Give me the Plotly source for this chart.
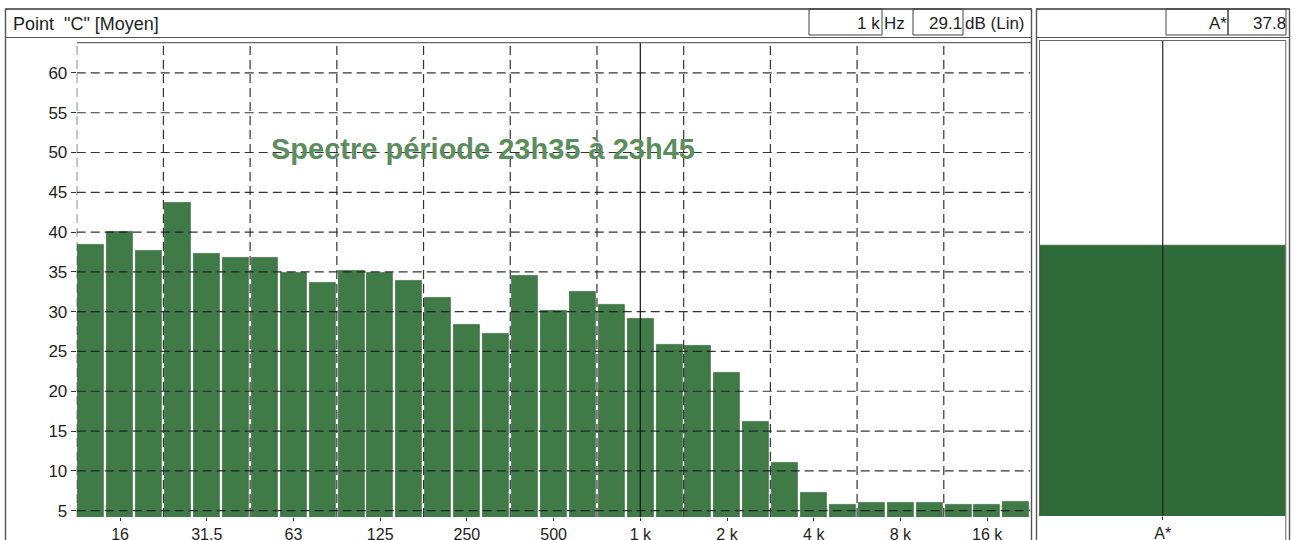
import plotly.graph_objects as go

# Third-octave bands (Hz) and measured levels, dB (Lin)
bands = ["12.5", "16", "20", "25", "31.5", "40", "50", "63", "80", "100", "125",
         "160", "200", "250", "315", "400", "500", "630", "800", "1 k", "1.25 k",
         "1.6 k", "2 k", "2.5 k", "3.15 k", "4 k", "5 k", "6.3 k", "8 k", "10 k",
         "12.5 k", "16 k", "20 k"]
levels = [38.4, 40.1, 37.7, 43.7, 37.3, 36.8, 36.8, 34.9, 33.7, 35.2, 34.9,
          33.9, 31.7, 28.4, 27.2, 34.5, 30.1, 32.5, 30.9, 29.1, 25.8,
          25.7, 22.3, 16.2, 11.0, 7.3, 5.7, 6.0, 6.0, 6.0,
          5.8, 5.8, 6.1]

# Octave labels on the frequency axis
labeled_bands = ["16", "31.5", "63", "125", "250", "500", "1 k", "2 k", "4 k", "8 k", "16 k"]
# Bands whose lower edge carries a vertical grid line
grid_bands = ["12.5", "25", "50", "100", "200", "400", "800", "1.6 k", "3.15 k", "6.3 k", "12.5 k"]
y_ticks = [5, 10, 15, 20, 25, 30, 35, 40, 45, 50, 55, 60]

cursor_band = "1 k"
cursor_level = 29.1
global_label = "A*"
global_level = 37.8

title_text = "Spectre période 23h35 à 23h45"
header_text = 'Point  "C" [Moyen]'

W, H = 1298, 540
FONT = "Liberation Sans, Arial, sans-serif"
BAR = "#3f7a47"
BAR_DARK = "#2f6b39"
GRID = "rgba(30,30,30,0.9)"
FRAME = "#555555"
TXT = "#1e1e1e"


def px(x):
    return x / W


def py(y):
    return 1 - y / H


idx = list(range(len(bands)))

fig = go.Figure()

fig.add_trace(go.Bar(
    x=idx, y=levels, width=0.9, base=0,
    marker=dict(color=BAR, line=dict(color="#2d5c33", width=0.6)),
    xaxis="x", yaxis="y", showlegend=False,
))
fig.add_trace(go.Bar(
    x=[0], y=[global_level], width=1.0, base=0,
    marker=dict(color=BAR_DARK, line=dict(color="#24552c", width=0.6)),
    xaxis="x2", yaxis="y2", showlegend=False,
))

shapes = []
# dashed grid drawn over the bars
for v in y_ticks:
    shapes.append(dict(type="line", xref="x", yref="y", x0=-0.5, x1=len(bands) - 0.5,
                       y0=v, y1=v, layer="above",
                       line=dict(color=GRID, width=1.2, dash="9px,5px")))
for b in grid_bands:
    xe = bands.index(b) - 0.5
    shapes.append(dict(type="line", xref="x", yref="y domain", x0=xe, x1=xe,
                       y0=0, y1=1, layer="above",
                       line=dict(color=GRID, width=1.2, dash="9px,5px")))
# cursor at the selected band
xc = bands.index(cursor_band)
shapes.append(dict(type="line", xref="x", yref="y domain", x0=xc, x1=xc, y0=0, y1=1,
                   layer="above", line=dict(color="#111111", width=1.2)))
# centre line of the global-level panel
shapes.append(dict(type="line", xref="x2", yref="y2 domain", x0=0, x1=0, y0=0, y1=1,
                   layer="above", line=dict(color="#222222", width=1.2)))


# panel frames
def hline(x0, x1, y, w=1.2, c=FRAME):
    shapes.append(dict(type="line", xref="paper", yref="paper", x0=px(x0), x1=px(x1),
                       y0=py(y), y1=py(y), line=dict(color=c, width=w)))


def vline(x, y0, y1, w=1.2, c=FRAME):
    shapes.append(dict(type="line", xref="paper", yref="paper", x0=px(x), x1=px(x),
                       y0=py(y0), y1=py(y1), line=dict(color=c, width=w)))


def box(x0, x1, y0, y1, w=1, c="#444444"):
    shapes.append(dict(type="rect", xref="paper", yref="paper", x0=px(x0), x1=px(x1),
                       y0=py(y1), y1=py(y0), line=dict(color=c, width=w)))


# left panel
hline(5, 1032, 9, 1.6, "#333333")
hline(5, 1032, 37.5, 1.2)
vline(5.5, 9, 540, 1.4)
vline(1031.5, 9, 540, 1.4)
hline(77, 1031, 42.7, 1.2, "#666666")
# right panel
hline(1036, 1290, 9, 1.6, "#333333")
hline(1036, 1290, 37.5, 1.2)
vline(1036.5, 9, 540, 1.4)
vline(1289.5, 9, 540, 1.4)
hline(1039, 1286, 40.5, 1.0, "#666666")
vline(1039.5, 40.5, 516, 1.0, "#666666")
vline(1285.8, 40.5, 540, 1.0, "#666666")
# header fields
box(809, 882, 9, 35)
box(913, 963, 9, 35)
box(1166, 1228, 9, 35)
box(1228, 1286, 9, 35)

HF = 17
annotations = [
    dict(text=header_text, xref="paper", yref="paper", x=px(11), y=py(24),
         xanchor="left", yanchor="middle", showarrow=False,
         font=dict(family=FONT, size=18, color=TXT)),
    dict(text="1 k", xref="paper", yref="paper", x=px(882), y=py(23),
         xanchor="right", yanchor="middle", showarrow=False,
         font=dict(family=FONT, size=HF, color=TXT)),
    dict(text="Hz", xref="paper", yref="paper", x=px(882), y=py(23),
         xanchor="left", yanchor="middle", showarrow=False,
         font=dict(family=FONT, size=HF, color=TXT)),
    dict(text=f"{cursor_level:.1f}", xref="paper", yref="paper", x=px(964), y=py(23),
         xanchor="right", yanchor="middle", showarrow=False,
         font=dict(family=FONT, size=HF, color=TXT)),
    dict(text="dB (Lin)", xref="paper", yref="paper", x=px(963), y=py(23),
         xanchor="left", yanchor="middle", showarrow=False,
         font=dict(family=FONT, size=HF, color=TXT)),
    dict(text=global_label, xref="paper", yref="paper", x=px(1229), y=py(23),
         xanchor="right", yanchor="middle", showarrow=False,
         font=dict(family=FONT, size=HF, color=TXT)),
    dict(text=f"{global_level:.1f}", xref="paper", yref="paper", x=px(1288), y=py(23),
         xanchor="right", yanchor="middle", showarrow=False,
         font=dict(family=FONT, size=HF, color=TXT)),
    dict(text=f"<b>{title_text}</b>", xref="paper", yref="paper", x=px(483), y=py(149),
         xanchor="center", yanchor="middle", showarrow=False,
         font=dict(family=FONT, size=29, color="#5b8d5e")),
]

fig.update_layout(
    width=W, height=H,
    margin=dict(l=0, r=0, t=0, b=0, autoexpand=False),
    paper_bgcolor="white", plot_bgcolor="white",
    bargap=0,
    shapes=shapes,
    annotations=annotations,
    xaxis=dict(
        domain=[px(76.7), px(1030.5)], range=[-0.5, len(bands) - 0.5],
        tickmode="array", tickvals=[bands.index(b) for b in labeled_bands],
        ticktext=labeled_bands, ticks="outside", ticklen=3, tickcolor="#333333",
        tickfont=dict(family=FONT, size=16, color=TXT),
        showgrid=False, zeroline=False, showline=False, anchor="y", fixedrange=True,
    ),
    yaxis=dict(
        domain=[py(517), py(42.7)], range=[4.2, 63.8],
        tickmode="array", tickvals=y_ticks, ticks="outside", ticklen=5,
        tickcolor="#333333", tickfont=dict(family=FONT, size=17, color=TXT),
        showgrid=False, zeroline=False, showline=False, anchor="x", fixedrange=True,
    ),
    xaxis2=dict(
        domain=[px(1040), px(1285.5)], range=[-0.5, 0.5],
        tickmode="array", tickvals=[0], ticktext=[global_label],
        ticks="outside", ticklen=3, tickcolor="#333333",
        tickfont=dict(family=FONT, size=16, color=TXT),
        showgrid=False, zeroline=False, showline=False, anchor="y2", fixedrange=True,
    ),
    yaxis2=dict(
        domain=[py(516), py(40.5)], range=[3.8, 63.5],
        showticklabels=False, ticks="", showgrid=False, zeroline=False,
        showline=False, anchor="x2", fixedrange=True,
    ),
)

fig.write_html("out.html")
